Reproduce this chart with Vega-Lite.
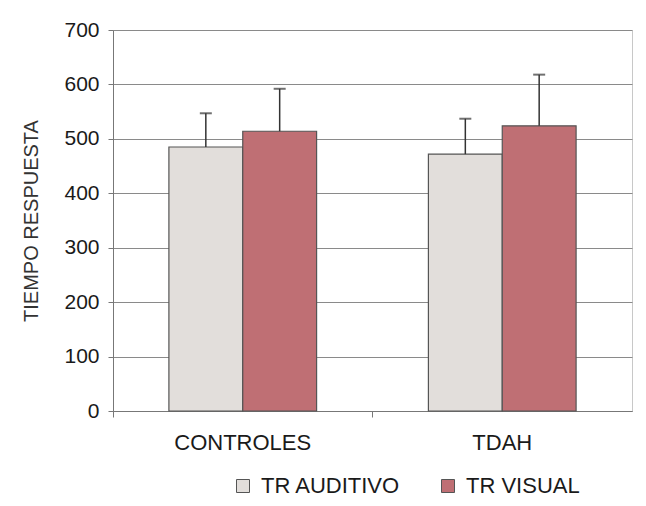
{
  "$schema": "https://vega.github.io/schema/vega-lite/v6.json",
  "autosize": "none",
  "width": 519,
  "height": 381,
  "padding": {"left": 113, "top": 30, "right": 14, "bottom": 95},
  "background": "white",
  "config": {
    "font": "Liberation Sans",
    "view": {"stroke": "#c8c8c8", "strokeWidth": 1}
  },
  "data": {
    "values": [
      {"grupo": "CONTROLES", "tipo": "TR AUDITIVO", "media": 485, "sup": 547},
      {"grupo": "CONTROLES", "tipo": "TR VISUAL", "media": 514, "sup": 592},
      {"grupo": "TDAH", "tipo": "TR AUDITIVO", "media": 472, "sup": 537},
      {"grupo": "TDAH", "tipo": "TR VISUAL", "media": 524, "sup": 618}
    ]
  },
  "encoding": {
    "x": {
      "field": "grupo", "type": "nominal",
      "scale": {"paddingInner": 0, "paddingOuter": 0},
      "axis": {
        "title": null, "labelAngle": 0, "bandPosition": 0,
        "labelFontSize": 22, "labelColor": "#1a1a1a", "labelPadding": 15,
        "tickSize": 6, "tickColor": "#777", "domainColor": "#777"
      }
    },
    "xOffset": {"field": "tipo", "type": "nominal", "scale": {"paddingOuter": 0.757, "paddingInner": 0}}
  },
  "layer": [
    {
      "mark": {"type": "bar", "stroke": "#555", "strokeWidth": 1.2},
      "encoding": {
        "y": {
          "field": "media", "type": "quantitative",
          "scale": {"domain": [0, 700]},
          "axis": {
            "title": "TIEMPO RESPUESTA", "titleFontSize": 20, "titleFontWeight": "normal",
            "titleColor": "#333", "titlePadding": 22,
            "values": [0, 100, 200, 300, 400, 500, 600, 700],
            "labelFontSize": 21, "labelColor": "#1a1a1a", "labelPadding": 9,
            "tickSize": 5, "tickColor": "#777", "domainColor": "#777",
            "gridColor": "#8a8a8a", "gridWidth": 1
          }
        },
        "color": {
          "field": "tipo", "type": "nominal",
          "scale": {"domain": ["TR AUDITIVO", "TR VISUAL"], "range": ["#e2dedb", "#bf6f74"]},
          "legend": {
            "title": null, "orient": "none", "direction": "horizontal",
            "legendX": 119, "legendY": 445,
            "symbolType": "square", "symbolSize": 169, "symbolStrokeColor": "#555", "symbolStrokeWidth": 1,
            "labelFontSize": 22, "labelColor": "#1a1a1a", "columnPadding": 36, "labelOffset": 7
          }
        }
      }
    },
    {
      "mark": {"type": "rule", "color": "#333", "strokeWidth": 1.5},
      "encoding": {
        "y": {"field": "media", "type": "quantitative"},
        "y2": {"field": "sup"}
      }
    },
    {
      "mark": {"type": "tick", "color": "#333", "thickness": 2, "size": 12},
      "encoding": {
        "y": {"field": "sup", "type": "quantitative"}
      }
    }
  ]
}
